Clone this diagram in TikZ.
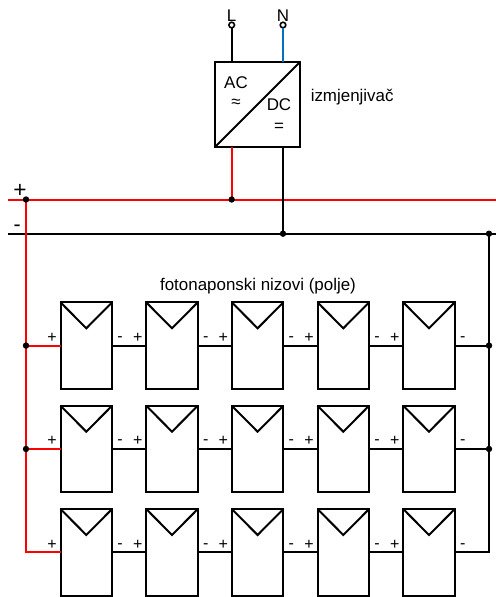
\documentclass[tikz,border=0pt]{standalone}
\usepackage{fontspec}
\setmainfont{Liberation Sans}
\definecolor{busred}{RGB}{255,0,0}
\definecolor{nblue}{RGB}{0,112,192}
\tikzset{
  wire/.style={line width=1.5pt,black},
  redwire/.style={line width=1.5pt,busred},
  bluewire/.style={line width=1.5pt,nblue},
  panel/.style={draw=black,line width=1.5pt,fill=white,minimum width=38.7pt,minimum height=64.9pt,inner sep=0pt,outer sep=0pt,anchor=north west},
  invbox/.style={draw=black,line width=1.5pt,minimum width=64.2pt,minimum height=64.2pt,inner sep=0pt,outer sep=0pt,anchor=north west},
  junction/.style={circle,fill=black,draw=none,minimum size=4.8pt,inner sep=0pt,outer sep=0pt},
  terminal/.style={circle,fill=white,draw=black,line width=1.2pt,minimum size=4.2pt,inner sep=0pt,outer sep=0pt},
  lbl/.style={font=\fontsize{12.7pt}{14pt}\selectfont,inner sep=0pt,text=black},
  sgn/.style={font=\fontsize{12pt}{13pt}\selectfont,inner sep=0pt,text=black,anchor=base},
}
\begin{document}
\begin{tikzpicture}[x=0.75pt,y=-0.75pt]
\useasboundingbox[fill=white] (0,0) rectangle (496,597);
% inverter
\node[invbox] (inv) at (214.7,61.7) {};
\node[terminal] (L) at (231.7,25) {};
\node[terminal] (N) at (283,25) {};
\node[lbl] (Lt) at (231.5,15.5) {L};
\node[lbl] (Nt) at (283,15.5) {N};
\coordinate (invL) at (231.7,61.7);
\coordinate (invN) at (283,61.7);
\coordinate (invP) at (231.7,147.3);
\coordinate (invM) at (283,147.3);
\draw[wire] (L) -- (invL);
\draw[bluewire] (N) -- (invN);
\draw[wire] (inv.south west) -- (inv.north east);
\node[lbl] (ac) at (236,83) {AC};
\node[lbl] (acs) at (236,103) {≈};
\node[lbl] (dc) at (279,104.5) {DC};
\node[lbl] (dcs) at (279,127) {=};
\node[lbl,anchor=west] (izm) at (310.5,97) {izmjenjivač};
% buses
\coordinate (pl) at (8,199.5);
\coordinate (pr) at (496,199.5);
\coordinate (ml) at (8,233.7);
\coordinate (mr) at (496,233.7);
\draw[wire] (ml) -- (mr);
\draw[redwire] (pl) -- (pr);
\draw[redwire] (invP) -- (231.7,199.5) coordinate (jp2c);
\draw[wire] (invM) -- (283,233.7) coordinate (jm1c);
\node[font=\fontsize{17pt}{17pt}\selectfont,inner sep=0pt] (plus) at (20,191) {+};
\node[font=\fontsize{16pt}{16pt}\selectfont,inner sep=0pt,anchor=base] (minus) at (17.3,231.7) {-};
\node[lbl] (title) at (258,286.5) {fotonaponski nizovi (polje)};
% panels
\foreach \r/\ty in {1/302.3,2/405.7,3/509}{
  \foreach \c/\lx in {1/60.5,2/146.2,3/231.8,4/317.5,5/403.2}{
    \node[panel] (p\r\c) at (\lx,\ty) {};
    \coordinate (apex\r\c) at (\lx+25.8,\ty+26);
    \draw[wire,line join=miter] (p\r\c.north west) -- (apex\r\c) -- (p\r\c.north east);
    \node[sgn] (sp\r\c) at (\lx-8.5,\ty+40.2) {+};
    \node[sgn] (sm\r\c) at (\lx+59.5,\ty+39.2) {-};
  }
  \draw[wire] (p\r1.east) -- (p\r2.west);
  \draw[wire] (p\r2.east) -- (p\r3.west);
  \draw[wire] (p\r3.east) -- (p\r4.west);
  \draw[wire] (p\r4.east) -- (p\r5.west);
}
% collectors
\coordinate (rc) at (26,0);
\coordinate (bc) at (489,0);
\draw[redwire] (pl -| rc) -- (rc |- p31.west) -- (p31.west);
\draw[redwire] (rc |- p11.west) -- (p11.west);
\draw[redwire] (rc |- p21.west) -- (p21.west);
\draw[wire] (bc |- ml) -- (bc |- p35.east) -- (p35.east);
\draw[wire] (p15.east) -- (bc |- p15.east);
\draw[wire] (p25.east) -- (bc |- p25.east);
% junctions
\node[junction] (jp1) at (rc |- pl) {};
\node[junction] (jp2) at (jp2c) {};
\node[junction] (jm1) at (jm1c) {};
\node[junction] (jm2) at (bc |- ml) {};
\node[junction] (jr1) at (rc |- p11.west) {};
\node[junction] (jr2) at (rc |- p21.west) {};
\node[junction] (jb1) at (bc |- p15.east) {};
\node[junction] (jb2) at (bc |- p25.east) {};
\end{tikzpicture}
\end{document}
